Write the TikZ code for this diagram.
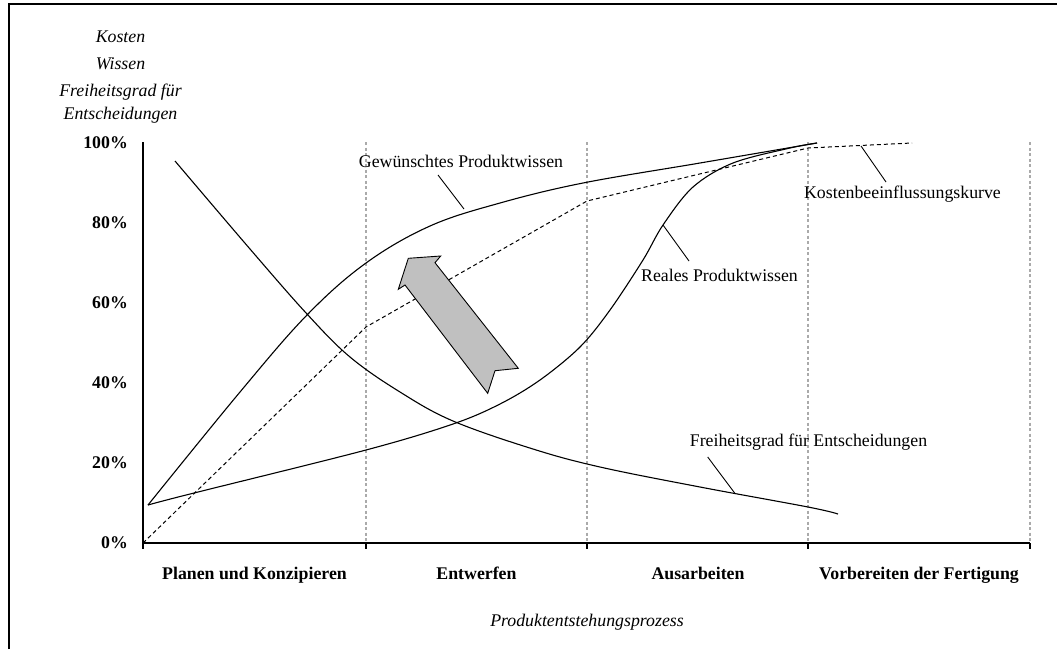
\documentclass[tikz,border=0pt]{standalone}
\usepackage{fontspec}
\setmainfont{Liberation Serif}
\definecolor{gridgray}{RGB}{170,170,170}
\definecolor{arrowgray}{RGB}{192,192,192}
\begin{document}
\begin{tikzpicture}[x=1pt,y=-1pt,
  lbl/.style={inner sep=0pt, anchor=base, font=\fontsize{17.8}{20}\selectfont},
  axlbl/.style={lbl, font=\fontsize{17.8}{20}\selectfont\itshape},
  pct/.style={lbl, anchor=base east, font=\fontsize{17.8}{20}\selectfont\bfseries},
  phase/.style={lbl, font=\fontsize{17.8}{20}\selectfont\bfseries},
  gridline/.style={draw=gridgray, line width=1.2pt, dash pattern=on 3pt off 2.5pt},
  axis/.style={line width=1.4pt},
  curve/.style={line width=1.1pt, line join=round},
  costcurve/.style={line width=1pt, dash pattern=on 4pt off 3pt},
  leader/.style={line width=0.9pt},
  frame/.style={line width=2pt},
  bigarrow/.style={draw, fill=arrowgray, line width=0.9pt, line join=miter}
]
\useasboundingbox (0,0) rectangle (1057,649);

% outer frame (top and left edges)
\draw[frame] (9,649) -- (9,4) -- (1057,4);

% axis titles
\node[axlbl] (tKosten) at (120.5,42.7) {Kosten};
\node[axlbl] (tWissen) at (120.5,69.3) {Wissen};
\node[axlbl] (tFrei1) at (120.5,96.7) {Freiheitsgrad für};
\node[axlbl] (tFrei2) at (120.5,119) {Entscheidungen};
\node[axlbl] (tProzess) at (587,626.7) {Produktentstehungsprozess};

% percentage scale
\node[pct] (p100) at (128,148.3) {100\%};
\node[pct] (p80) at (128,228.3) {80\%};
\node[pct] (p60) at (128,308.3) {60\%};
\node[pct] (p40) at (128,388.3) {40\%};
\node[pct] (p20) at (128,468.3) {20\%};
\node[pct] (p0) at (128,548.3) {0\%};

% phase separators
\foreach \gx in {366,587,808,1030}
  \draw[gridline] (\gx,142) -- (\gx,543);

% axes with ticks
\draw[axis] (143,142) -- (143,549);
\draw[axis] (143,543) -- (1030,543);
\foreach \gx in {366,587,808,1030}
  \draw[axis] (\gx,543) -- (\gx,549);

% phase names
\node[phase] (ph1) at (254.5,579.3) {Planen und Konzipieren};
\node[phase] (ph2) at (476.5,579.3) {Entwerfen};
\node[phase] (ph3) at (698,579.3) {Ausarbeiten};
\node[phase] (ph4) at (919,579.3) {Vorbereiten der Fertigung};

% Kostenbeeinflussungskurve (dashed)
\draw[costcurve] (143,543) -- (366,327) -- (587,201) -- (808,148) -- (912,143);

% Gewünschtes Produktwissen
\draw[curve] plot[smooth, tension=0.6] coordinates {
  (148,505) (240,392) (307,315) (366,263) (430,226)
  (500,203) (583,183) (700,163) (817,143)};

% Reales Produktwissen
\draw[curve] plot[smooth, tension=0.55] coordinates {
  (148,505) (190,494) (366,450) (453,424) (500,404) (540,380) (580,347)
  (610,310) (643,260) (663,225) (693,187) (733,163) (790,148) (817,143)};

% Freiheitsgrad für Entscheidungen
\draw[curve] plot[smooth, tension=0.6] coordinates {
  (175,161) (250,249) (307,314) (350,357) (400,392) (453,421) (533,449)
  (600,467) (700,487) (808,507) (838,514)};

% curve labels and leaders
\node[lbl] (lGew) at (461,167.3) {Gewünschtes Produktwissen};
\node[lbl] (lReal) at (719.5,281.7) {Reales Produktwissen};
\node[lbl] (lKost) at (902.5,198.3) {Kostenbeeinflussungskurve};
\node[lbl] (lFrei) at (808.5,446.7) {Freiheitsgrad für Entscheidungen};

\coordinate (cGewA) at (438,175);   \coordinate (cGewB) at (464,209);
\coordinate (cRealA) at (689,261);  \coordinate (cRealB) at (663,225);
\coordinate (cKostA) at (886,182);  \coordinate (cKostB) at (861,146);
\coordinate (cFreiA) at (707.7,457);\coordinate (cFreiB) at (735,493.5);
\draw[leader] (cGewA) -- (cGewB);
\draw[leader] (cRealA) -- (cRealB);
\draw[leader] (cKostA) -- (cKostB);
\draw[leader] (cFreiA) -- (cFreiB);

% block arrow
\draw[bigarrow] (408.3,258.3) -- (440.7,256) -- (435,262.7) -- (518.3,368.3)
  -- (495,370.7) -- (487.7,393.3) -- (405,285) -- (398.3,289.3) -- cycle;
\end{tikzpicture}
\end{document}
